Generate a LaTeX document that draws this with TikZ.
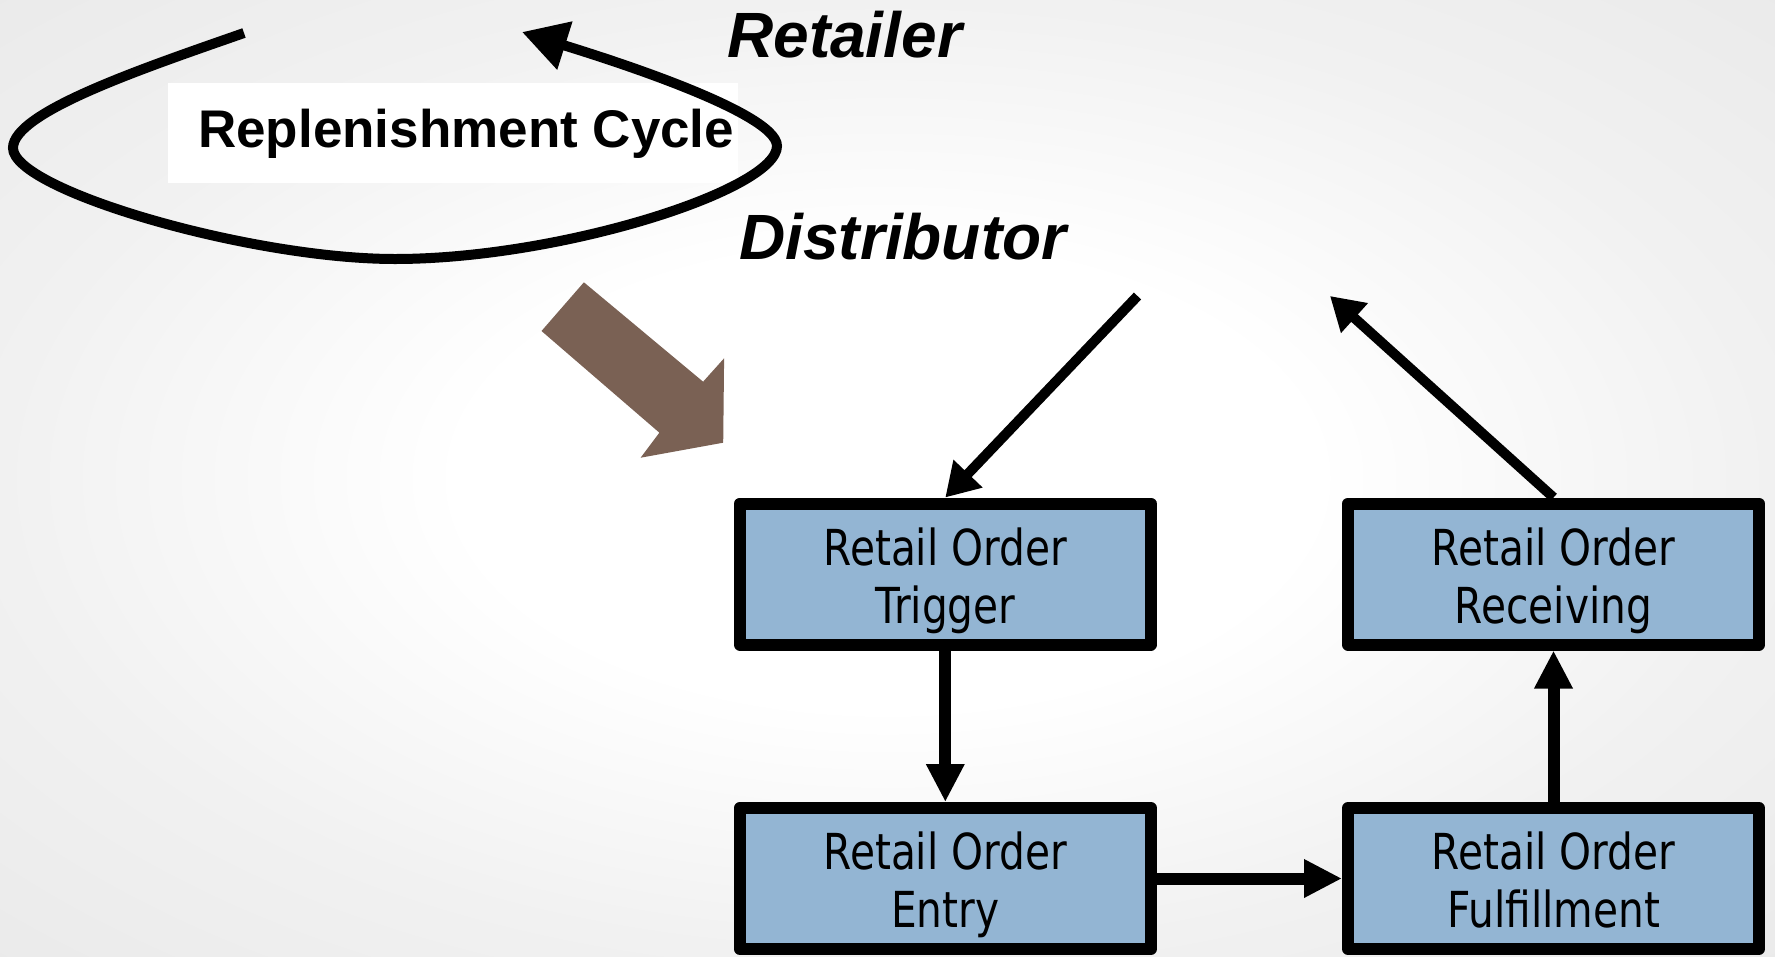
\documentclass[tikz,border=0pt]{standalone}
\usepackage{fontspec}
\setmainfont{Liberation Sans}
\newfontfamily\boxfont[FakeStretch=0.82]{DejaVu Sans}
\usetikzlibrary{arrows.meta}
\definecolor{boxblue}{RGB}{147,181,211}
\definecolor{brownarrow}{RGB}{122,97,84}
\definecolor{bgedge}{RGB}{241,241,241}
\definecolor{bgcorner}{RGB}{234,234,234}
\pgfdeclareradialshading{slidebg}{\pgfpoint{0bp}{0bp}}{color(0bp)=(white); color(12bp)=(white); color(25bp)=(bgedge); color(36bp)=(bgcorner); color(50bp)=(bgcorner)}
% struts that give every two-line step label the same box
\newcommand\firstlinestrut{\rule{0pt}{52pt}}
\newcommand\lastlinestrut{\rule[-12pt]{0pt}{12pt}}
\begin{document}
\begin{tikzpicture}[x=1pt,y=-1pt,
  stepbox/.style={draw=black, line width=12pt, fill=boxblue, line join=round,
    minimum width=411pt, minimum height=141pt, inner sep=0pt, align=center,
    font=\boxfont\fontsize{49.6}{58}\selectfont},
  flow/.style={line width=12pt, -{Triangle[length=38pt,width=36pt]}},
  link/.style={line width=10pt, -{Triangle[length=33pt,width=38pt]}},
  tierlabel/.style={anchor=base west, inner sep=0pt,
    font=\bfseries\itshape\fontsize{64}{70}\selectfont}]

% slide background
\shade[shading=slidebg] (0,0) rectangle (1775,956);
\useasboundingbox (0,0) rectangle (1775,956);

% tier labels
\node[tierlabel] (retailer) at (727,57) {Retailer};
\node[tierlabel] (distributor) at (739,259) {Distributor};

% cycle caption on its white panel
\fill[white] (168,83) rectangle (738,183);
\node[anchor=base west, inner sep=0pt,
  font=\bfseries\fontsize{53}{60}\selectfont] (cycle) at (198,147) {Replenishment Cycle};

% loop around the caption
\draw[line width=10pt, -{Triangle[length=45pt,width=48pt]}]
  (244,33) .. controls (144,68) and (13,112) .. (13,148)
           .. controls (13,190) and (250,259) .. (395,259)
           .. controls (560,259) and (777,190) .. (777,146)
           .. controls (777,110) and (582,51) .. (522,32);

% zoom-in block arrow
\fill[brownarrow] (541.5,331) -- (583.9,282.3) -- (703.1,381.7) -- (724.1,358.3)
  -- (723.2,442.7) -- (640.6,457.7) -- (659.4,432.7) -- cycle;

% process steps
\node[stepbox] (trig) at (945.3,574) {\firstlinestrut Retail Order\\Trigger\lastlinestrut};
\node[stepbox] (recv) at (1553.5,574) {\firstlinestrut Retail Order\\Receiving\lastlinestrut};
\node[stepbox] (entry) at (945.3,878.5) {\firstlinestrut Retail Order\\Entry\lastlinestrut};
\node[stepbox] (fulf) at (1553.5,878.5) {\firstlinestrut Retail Order\\Fulfillment\lastlinestrut};

% free ends of the incoming and outgoing links
\coordinate (din) at (1137.5,296);
\coordinate (dout) at (1330,296);

\draw[link] (din) -- (trig.north);
\draw[link] (recv.north) -- (dout);
\draw[flow] (trig.south) -- (entry.north);
\draw[flow] (entry.east) -- (fulf.west);
\draw[flow] (fulf.north) -- (recv.south);
\end{tikzpicture}
\end{document}
